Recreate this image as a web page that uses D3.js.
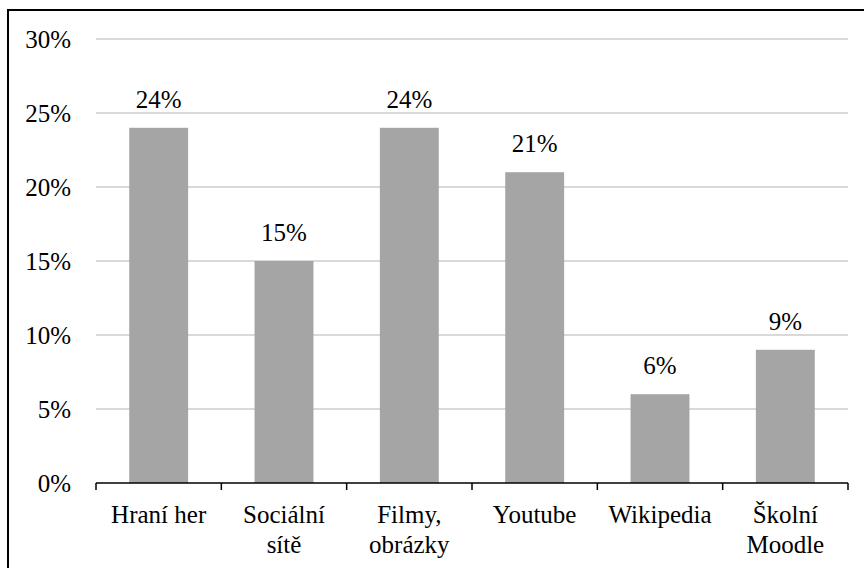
<!DOCTYPE html>
<html>
<head>
<meta charset="utf-8">
<script src="https://cdnjs.cloudflare.com/ajax/libs/d3/7.8.5/d3.min.js"></script>
<style>
  body { margin: 0; background: #fff; }
  svg text { font-family: "Times New Roman", "Liberation Serif", Tinos, "DejaVu Serif", serif; }
</style>
</head>
<body>
<script>
// chart data
var categories = ["Hraní her", "Sociální sítě", "Filmy, obrázky", "Youtube", "Wikipedia", "Školní Moodle"];
var labelLines = [["Hraní her"], ["Sociální", "sítě"], ["Filmy,", "obrázky"], ["Youtube"], ["Wikipedia"], ["Školní", "Moodle"]];
var values = [24, 15, 24, 21, 6, 9];
var yTicks = [0, 5, 10, 15, 20, 25, 30];

var width = 864, height = 568;
var margin = {top: 39, right: 16, bottom: 85, left: 96};
var fontSize = "25px";

var svg = d3.select("body").append("svg")
    .attr("width", width)
    .attr("height", height);

// frame (only top and left edges fall inside the picture)
svg.append("rect")
    .attr("x", 8).attr("y", 10)
    .attr("width", 900).attr("height", 600)
    .attr("fill", "none")
    .attr("stroke", "#000")
    .attr("stroke-width", 2);

var x = d3.scaleBand()
    .domain(categories)
    .range([margin.left, width - margin.right])
    .paddingInner(0.53)
    .paddingOuter(0.265);

var y = d3.scaleLinear()
    .domain([0, 30])
    .range([height - margin.bottom, margin.top]);

// gridlines
svg.append("g")
    .selectAll("line")
    .data(yTicks.slice(1))
    .enter()
    .append("line")
    .attr("x1", margin.left)
    .attr("x2", width - margin.right)
    .attr("y1", function (d) { return y(d); })
    .attr("y2", function (d) { return y(d); })
    .attr("stroke", "#d9d9d9")
    .attr("stroke-width", 2);

// y tick labels
svg.append("g")
    .selectAll("text")
    .data(yTicks)
    .enter()
    .append("text")
    .attr("x", 71)
    .attr("y", function (d) { return y(d); })
    .attr("dy", "0.34em")
    .attr("text-anchor", "end")
    .style("font-size", fontSize)
    .text(function (d) { return d + "%"; });

// bars
svg.append("g")
    .selectAll("rect")
    .data(values)
    .enter()
    .append("rect")
    .attr("x", function (d, i) { return x(categories[i]); })
    .attr("y", function (d) { return y(d); })
    .attr("width", x.bandwidth())
    .attr("height", function (d) { return y(0) - y(d); })
    .attr("fill", "#a5a5a5");

// value labels
svg.append("g")
    .selectAll("text")
    .data(values)
    .enter()
    .append("text")
    .attr("x", function (d, i) { return x(categories[i]) + x.bandwidth() / 2; })
    .attr("y", function (d) { return y(d) - 20; })
    .attr("text-anchor", "middle")
    .style("font-size", fontSize)
    .text(function (d) { return d + "%"; });

// x axis
var xAxis = svg.append("g")
    .attr("transform", "translate(0," + y(0) + ")");

xAxis.append("line")
    .attr("x1", margin.left).attr("x2", width - margin.right)
    .attr("stroke", "#000").attr("stroke-width", 1.5);

var step = x.step();
var tickPos = d3.range(categories.length + 1).map(function (i) { return margin.left + i * step; });
xAxis.selectAll("line.tick")
    .data(tickPos)
    .enter()
    .append("line")
    .attr("class", "tick")
    .attr("x1", function (d) { return d; })
    .attr("x2", function (d) { return d; })
    .attr("y1", 0).attr("y2", 7)
    .attr("stroke", "#000").attr("stroke-width", 1.5);

// category labels, wrapped
var lab = xAxis.selectAll("text")
    .data(labelLines)
    .enter()
    .append("text")
    .attr("text-anchor", "middle")
    .style("font-size", fontSize)
    .attr("transform", function (d, i) {
        return "translate(" + (x(categories[i]) + x.bandwidth() / 2) + ",40)";
    });

lab.selectAll("tspan")
    .data(function (d) { return d; })
    .enter()
    .append("tspan")
    .attr("x", 0)
    .attr("y", function (d, j) { return j * 30; })
    .text(function (d) { return d; });
</script>
</body>
</html>
